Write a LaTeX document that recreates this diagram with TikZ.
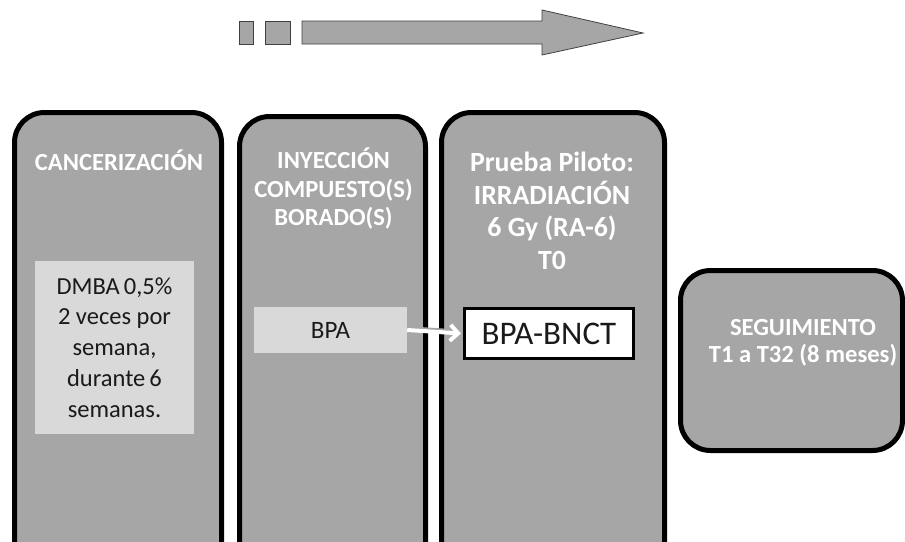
\documentclass[tikz,border=0pt]{standalone}
\usepackage{fontspec}
\setmainfont{Carlito}
\usetikzlibrary{arrows.meta}
\definecolor{stagegray}{HTML}{A6A6A6}
\definecolor{notegray}{HTML}{D9D9D9}
\definecolor{inkdark}{HTML}{1A1A1A}
\begin{document}
\begin{tikzpicture}[x=1pt,y=-1pt,
  stage/.style={draw=black,line width=5pt,fill=stagegray,rounded corners=30pt,
    inner sep=0pt,minimum width=#1},
  title/.style={text=white,font=\bfseries\fontsize{24.6}{28.5}\selectfont,align=center},
  note/.style={fill=notegray,inner sep=0pt,text=inkdark,align=center},
  timeline/.style={fill=stagegray,draw=black!75,line width=0.8pt,line join=miter}]
\useasboundingbox (0,0) rectangle (905,541);
\fill[white] (0,0) rectangle (905,541);
\begin{scope}
\clip (0,0) rectangle (905,541);

% timeline arrow at the top
\draw[timeline] (239,21) rectangle (253,44);
\draw[timeline] (265,21) rectangle (290,44);
\draw[timeline] (302,21) -- (542,21) -- (542,10) -- (643,33) -- (542,55) -- (542,44) -- (302,44) -- cycle;

% stage boxes
\node[stage=207pt,minimum height=470pt] (canc) at (118,347.5) {};
\node[stage=186pt,minimum height=470pt] (iny) at (332.5,351.5) {};
\node[stage=223pt,minimum height=470pt] (irr) at (553,347.5) {};
\node[stage=222pt,minimum height=180pt] (seg) at (791.5,360.5) {};

% stage titles
\node[title] (tcanc) at (119,160) {CANCERIZACIÓN};
\node[title] (tiny) at (333.5,189) {INYECCIÓN\\COMPUESTO(S)\\BORADO(S)};
\node[title,font=\bfseries\fontsize{27.8}{32.5}\selectfont] (tirr) at (552,211)
  {Prueba Piloto:\\IRRADIACIÓN\\6 Gy (RA-6)\\T0};
\node[title,font=\bfseries\fontsize{24.6}{26.5}\selectfont] (tseg) at (803,343)
  {SEGUIMIENTO\\T1 a T32 (8 meses)};

% inner notes
\node[note,minimum width=159pt,minimum height=173pt,
  font=\fontsize{24.5}{30.8}\selectfont] (dmba) at (114.5,347.5)
  {DMBA\,0,5\%\\2 veces por\\semana,\\durante\,6\\semanas.};
\node[note,minimum width=153pt,minimum height=46pt,
  font=\fontsize{25}{29}\selectfont] (bpa) at (330.5,330) {BPA};
\node[draw=black,line width=3pt,fill=white,inner sep=0pt,text=inkdark,
  minimum width=169pt,minimum height=50pt,
  font=\fontsize{33}{38}\selectfont] (bnct) at (549,333.5) {BPA-BNCT};

% transfer arrow
\draw[line width=4.5pt,draw=black!35,-{Straight Barb[length=8pt,width=16pt]}]
  ([xshift=1pt,yshift=1.5pt]bpa.east) -- ([xshift=-1pt,yshift=1.5pt]bnct.west);
\draw[line width=4pt,draw=white,-{Straight Barb[length=8pt,width=16pt]}]
  (bpa.east) -- ([xshift=-2pt]bnct.west);
\end{scope}
\end{tikzpicture}
\end{document}
